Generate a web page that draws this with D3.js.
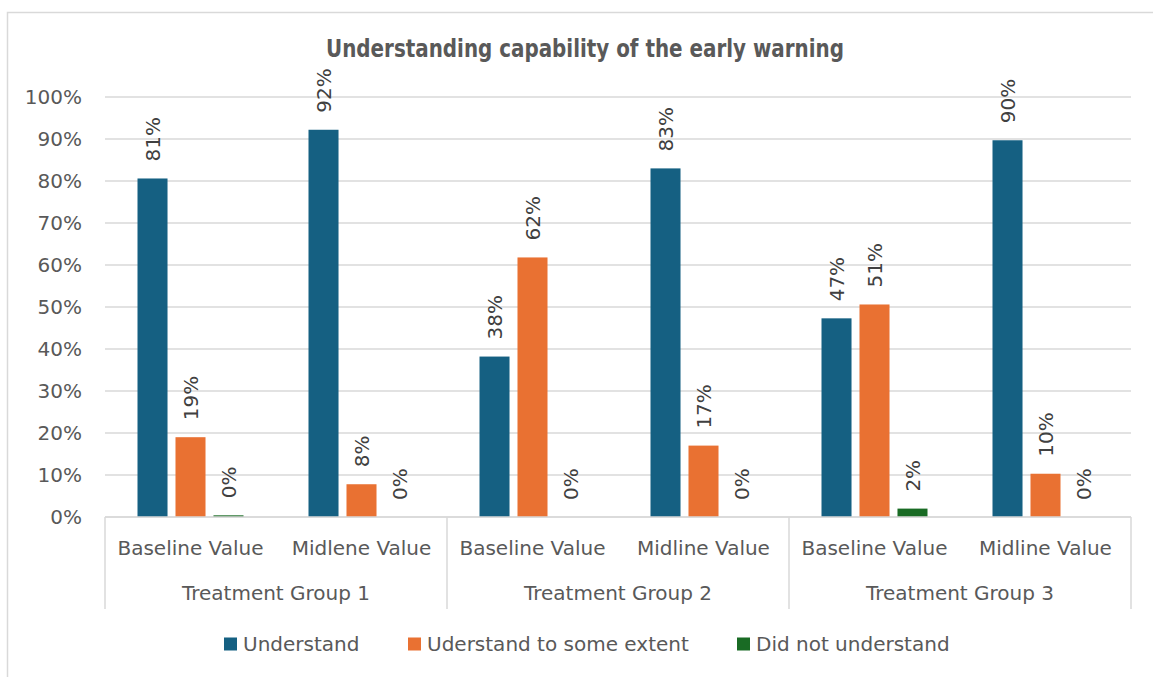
<!DOCTYPE html>
<html>
<head>
<meta charset="utf-8">
<script src="https://cdn.jsdelivr.net/npm/d3@7"></script>
<style>
  body { margin: 0; background: #fff; }
  svg text { font-family: "DejaVu Sans", sans-serif; fill: #595959; }
</style>
</head>
<body>
<svg id="chart" width="1153" height="677"></svg>
<script>
// chart data
var groups = ["Treatment Group 1", "Treatment Group 2", "Treatment Group 3"];
var periods = ["Baseline Value", "Midlene Value", "Baseline Value", "Midline Value", "Baseline Value", "Midline Value"];
var seriesNames = ["Understand", "Uderstand to some extent", "Did not understand"];
var understand = [80.6, 92.2, 38.2, 83.0, 47.3, 89.7];
var someExtent = [19.0, 7.8, 61.8, 17.0, 50.6, 10.3];
var notUnderstand = [0.4, 0, 0, 0, 2.0, 0];
var yTicks = [0, 10, 20, 30, 40, 50, 60, 70, 80, 90, 100];
var colors = ["#156082", "#E97132", "#196B24"];

var svg = d3.select('#chart');
var grid = '#d9d9d9';
var plotLeft = 105, plotRight = 1131, plotTop = 97, plotBottom = 517;

// outer frame (only top and left visible)
svg.append('path')
  .attr('d', 'M7.5 677 L7.5 12.5 L1153 12.5')
  .attr('fill', 'none')
  .attr('stroke', grid)
  .attr('stroke-width', 1.5);

// title, squeezed to look condensed
svg.append('text')
  .attr('transform', 'translate(585,57) scale(0.885,1)')
  .attr('text-anchor', 'middle')
  .style('font-family', '"Liberation Sans Narrow", "DejaVu Sans Condensed", sans-serif')
  .style('font-weight', 'bold')
  .style('font-size', '25px')
  .text('Understanding capability of the early warning');

var keys = periods.map(function(p, i) { return i; });
var x0 = d3.scaleBand().domain(keys).range([plotLeft, plotRight]);
var mid = x0.bandwidth() / 2;
var x1 = d3.scaleBand().domain([0, 1, 2]).range([mid - 53, mid + 53]).paddingInner(0.21);
var y = d3.scaleLinear().domain([0, 100]).range([plotBottom, plotTop]);

// gridlines
svg.append('g').selectAll('line').data(yTicks).enter().append('line')
  .attr('x1', plotLeft).attr('x2', plotRight)
  .attr('y1', function(d) { return y(d); })
  .attr('y2', function(d) { return y(d); })
  .attr('stroke', grid).attr('stroke-width', 1.5);

// y axis labels
var yAxis = svg.append('g')
  .attr('transform', 'translate(84,0)')
  .call(d3.axisLeft(y).tickValues(yTicks).tickSize(0).tickPadding(2)
    .tickFormat(function(d) { return d + '%'; }));
yAxis.select('.domain').remove();
yAxis.selectAll('text').style('font-size', '20px').style('font-family', '"DejaVu Sans", sans-serif').attr('fill', '#595959');

// bars
var rows = keys.map(function(i) {
  return [understand[i], someExtent[i], notUnderstand[i]];
});
var cat = svg.append('g').selectAll('g').data(rows).enter().append('g')
  .attr('transform', function(d, i) { return 'translate(' + x0(i) + ',0)'; });

cat.selectAll('rect').data(function(d) { return d; }).enter().append('rect')
  .attr('x', function(d, s) { return x1(s); })
  .attr('width', x1.bandwidth())
  .attr('y', function(d) { return y(d); })
  .attr('height', function(d) { return plotBottom - y(d); })
  .attr('fill', function(d, s) { return colors[s]; });

cat.selectAll('text').data(function(d) { return d; }).enter().append('text')
  .attr('transform', function(d, s) {
    return 'translate(' + (x1(s) + x1.bandwidth() / 2) + ',' + (y(d) - 17) + ') rotate(-90)';
  })
  .attr('dy', '0.36em')
  .style('font-size', '20px')
  .style('fill', '#404040')
  .text(function(d) { return Math.round(d) + '%'; });

// category axis
svg.append('line')
  .attr('x1', plotLeft).attr('x2', plotRight).attr('y1', plotBottom).attr('y2', plotBottom)
  .attr('stroke', grid).attr('stroke-width', 1.5);

var groupEdges = [0, 2, 4, 6].map(function(i) { return plotLeft + i * x0.step(); });
svg.append('g').selectAll('line').data(groupEdges).enter().append('line')
  .attr('x1', function(d) { return d; }).attr('x2', function(d) { return d; })
  .attr('y1', plotBottom).attr('y2', 609)
  .attr('stroke', grid).attr('stroke-width', 1.5);

svg.append('g').selectAll('text').data(periods).enter().append('text')
  .attr('x', function(d, i) { return x0(i) + mid; })
  .attr('y', 555)
  .attr('text-anchor', 'middle')
  .style('font-size', '20px')
  .text(function(d) { return d; });

svg.append('g').selectAll('text').data(groups).enter().append('text')
  .attr('x', function(d, i) { return (groupEdges[i] + groupEdges[i + 1]) / 2; })
  .attr('y', 600)
  .attr('text-anchor', 'middle')
  .style('font-size', '20px')
  .text(function(d) { return d; });

// legend
var legendX = [224, 408, 737];
var legend = svg.append('g').selectAll('g').data(seriesNames).enter().append('g')
  .attr('transform', function(d, i) { return 'translate(' + legendX[i] + ',644)'; });
legend.append('rect')
  .attr('x', 0).attr('y', -6.5).attr('width', 13).attr('height', 13)
  .attr('fill', function(d, i) { return colors[i]; });
legend.append('text')
  .attr('x', 19).attr('dy', '0.36em')
  .style('font-size', '20px')
  .text(function(d) { return d; });
</script>
</body>
</html>
